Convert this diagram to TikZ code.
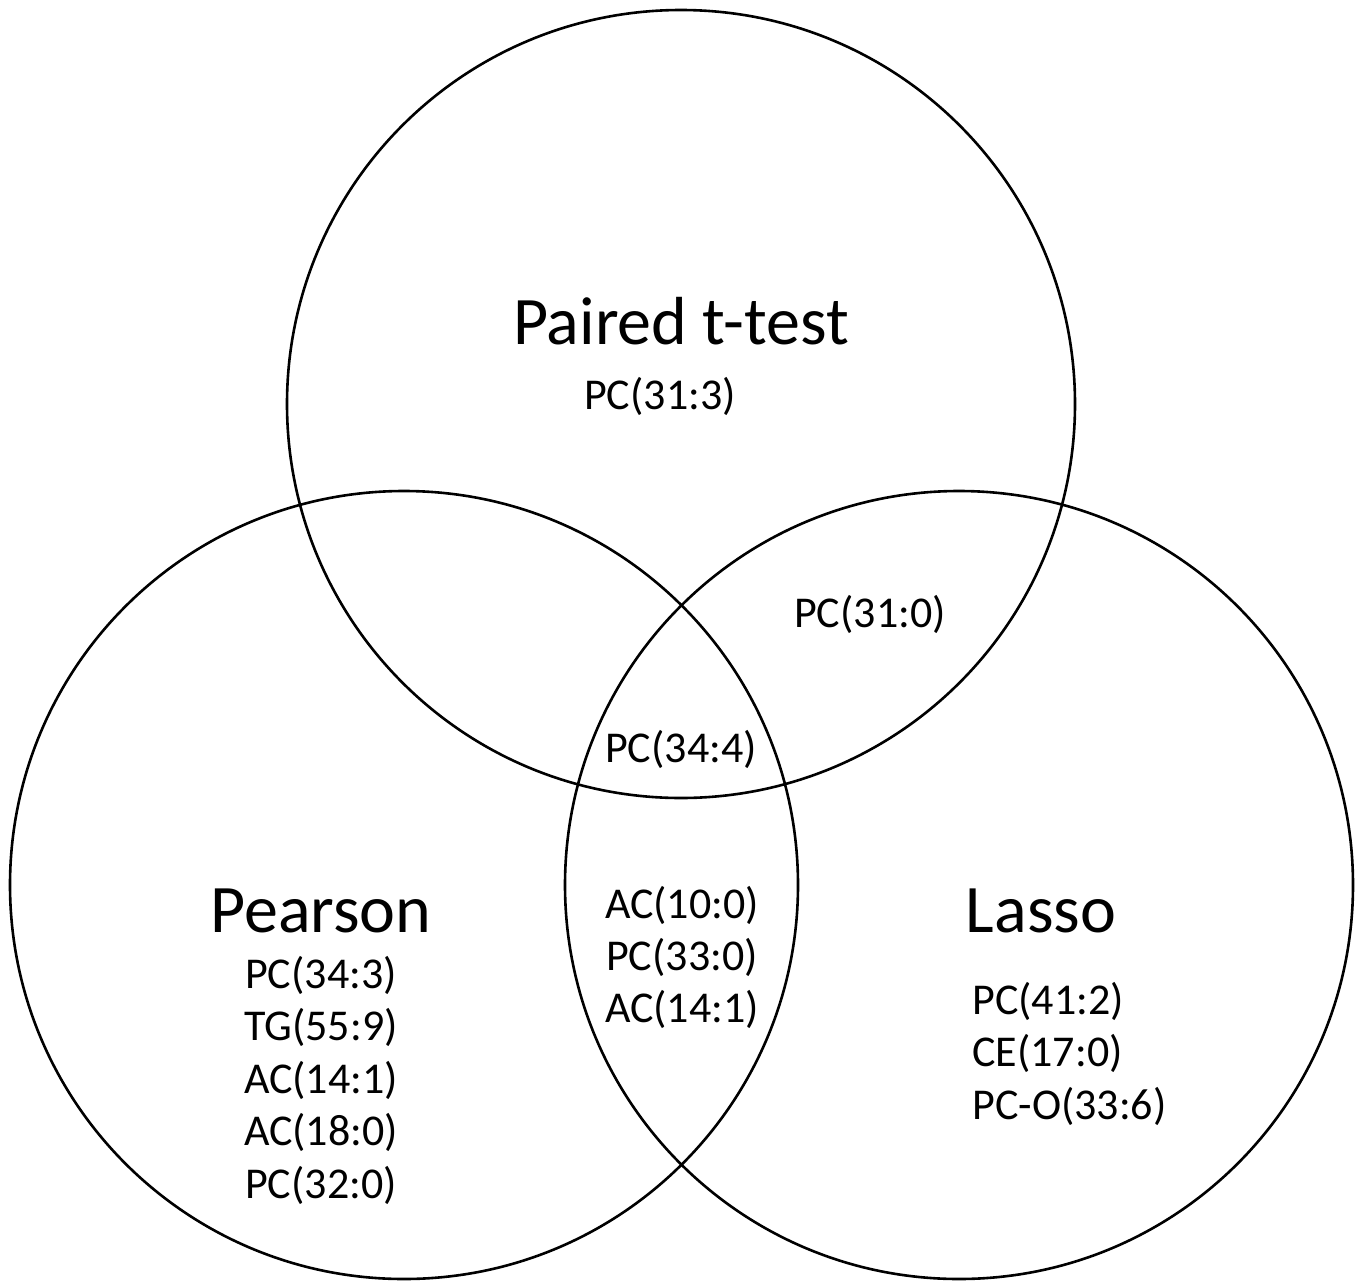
\documentclass[tikz,border=0pt]{standalone}
\usepackage{fontspec}
\setmainfont{Carlito}
\begin{document}
\begin{tikzpicture}[x=0.5pt,y=-0.5pt,
  ring/.style={draw=black,line width=1.3pt},
  setname/.style={inner sep=0pt,anchor=base,font=\fontsize{34}{40}\selectfont},
  item/.style={inner sep=0pt,anchor=base,font=\fontsize{22}{26}\selectfont},
  itemleft/.style={item,anchor=base west}]
\useasboundingbox (0,0) rectangle (1360,1280);

% set circles
\coordinate (ctop) at (681,404);
\coordinate (cleft) at (404,885);
\coordinate (cright) at (959,885);
\draw[ring] (ctop) circle[radius=197pt];
\draw[ring] (cleft) circle[radius=197pt];
\draw[ring] (cright) circle[radius=197pt];

% set names
\node[setname] (ttest) at (681,344) {Paired t-test};
\node[setname] (pearson) at (321,932) {Pearson};
\node[setname] (lasso) at (1041,932) {Lasso};

% paired t-test only
\node[item] (t1) at (660,409) {PC(31:3)};
% paired t-test and lasso
\node[item] (tl1) at (870,627) {PC(31:0)};
% all three
\node[item] (all1) at (681,762) {PC(34:4)};
% pearson and lasso
\node[item] (pl1) at (682,918) {AC(10:0)};
\node[item] (pl2) at (682,970) {PC(33:0)};
\node[item] (pl3) at (682,1022) {AC(14:1)};
% pearson only
\node[item] (p1) at (321,988) {PC(34:3)};
\node[item] (p2) at (321,1040) {TG(55:9)};
\node[item] (p3) at (321,1093) {AC(14:1)};
\node[item] (p4) at (321,1145) {AC(18:0)};
\node[item] (p5) at (321,1198) {PC(32:0)};
% lasso only
\node[itemleft] (l1) at (972,1014) {PC(41:2)};
\node[itemleft] (l2) at (972,1066) {CE(17:0)};
\node[itemleft] (l3) at (972,1119) {PC-O(33:6)};
\end{tikzpicture}
\end{document}
